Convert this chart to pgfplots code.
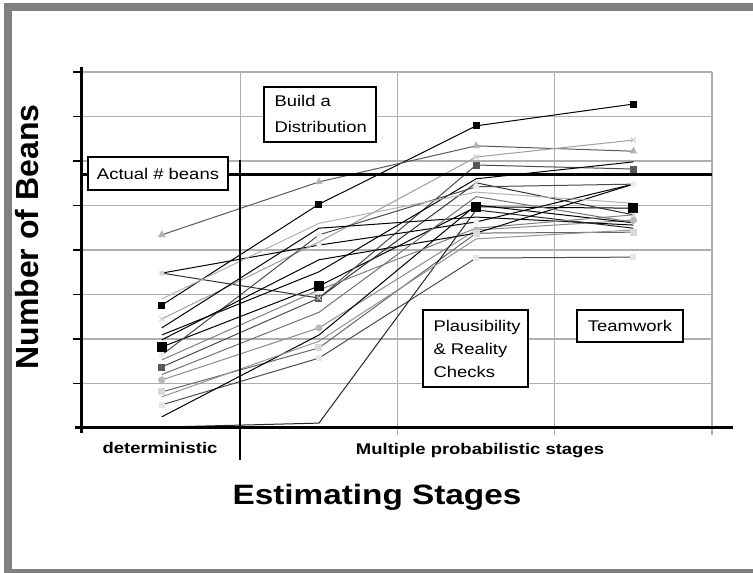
\documentclass[border=0pt]{standalone}
\usepackage{pgfplots}
\pgfplotsset{compat=1.18}
\usepackage{fontspec}
\setmainfont{Liberation Sans}
\usepackage{graphicx}

\definecolor{framec}{RGB}{128,128,128}
\definecolor{gridc}{RGB}{175,175,175}

% source picture is stretched sideways a bit
\newcommand{\wide}[1]{\scalebox{1.19}[1]{#1}}

\begin{document}
\begin{tikzpicture}
\begin{scope}[x=1pt,y=1pt]
\path[use as bounding box] (0,0) rectangle (753,573);
\fill[framec] (4,0) rectangle (753,570);
\fill[white] (12,4) rectangle (753,562);
\end{scope}

\begin{axis}[
  at={(80pt,145pt)}, anchor=south west,
  scale only axis, width=632pt, height=356pt,
  xmin=0.48, xmax=4.5, ymin=0, ymax=8,
  xtick={1.5,2.5,3.5,4.5}, ytick={1,...,8},
  xticklabels={}, yticklabels={},
  grid=major, grid style={gridc, line width=1.2pt},
  tick pos=left, tick align=outside, major tick length=7pt,
  xtick style={gridc, line width=1.2pt},
  ytick style={black, line width=1.5pt},
  axis line style={draw=none},
  clip=false,
  every axis plot/.append style={line width=1pt},
]
% black squares
\addplot[black, mark=square*, mark size=3pt] coordinates {(1,2.76) (2,5.03) (3,6.79) (4,7.28)};
% grey triangles
\addplot[black!65, mark=triangle*, mark size=3.5pt, mark options={gray!60, draw=gray!60}] coordinates {(1,4.34) (2,5.53) (3,6.34) (4,6.22)};
% big black squares
\addplot[black, mark=square*, mark size=4.5pt] coordinates {(1,1.82) (2,3.19) (3,4.97) (4,4.94)};
% dark grey squares
\addplot[black!70, mark=square*, mark size=3pt, mark options={black!65}] coordinates {(1,1.37) (2,2.92) (3,5.91) (4,5.82)};
% grey circles
\addplot[gray!90, mark=*, mark size=3pt, mark options={gray!55, draw=gray!55}] coordinates {(1,1.08) (2,2.25) (3,4.45) (4,4.67)};
% light grey squares
\addplot[black!60, mark=square*, mark size=3pt, mark options={gray!30, draw=gray!30}] coordinates {(1,0.81) (2,1.80) (3,4.38) (4,4.40)};
% the rest
\addplot[black, mark=diamond*, mark size=3pt, mark options={white, draw=gray!15}] coordinates {(1,3.48) (2,4.11) (3,4.63) (4,5.48)};
\addplot[black!80, mark=x, mark size=3pt, mark options={gray!40}] coordinates {(1,3.48) (2,2.92) (3,5.51) (4,4.79)};
\addplot[gray!75, mark=x, mark size=3.5pt, mark options={gray!40}] coordinates {(1,2.45) (2,4.18) (3,6.09) (4,6.47)};
\addplot[black] coordinates {(1,2.09) (2,3.51) (3,5.60) (4,5.98)};
\addplot[black!70, mark=*, mark size=2.5pt, mark options={gray!15, draw=gray!15}] coordinates {(1,1.64) (2,4.34) (3,5.42) (4,5.48)};
\addplot[black] coordinates {(1,2.25) (2,4.49) (3,4.74) (4,4.56)};
\addplot[black!70, mark=square*, mark size=2.5pt, mark options={gray!20, draw=gray!20}] coordinates {(1,0.52) (2,1.57) (3,3.82) (4,3.84)};
\addplot[black] coordinates {(1,0.25) (2,2.09) (3,5.01) (4,4.61)};
\addplot[black!85] coordinates {(1,0.02) (2,0.11) (3,4.90) (4,4.49)};
\addplot[gray] coordinates {(1,1.53) (2,3.10) (3,4.49) (4,4.79)};
\addplot[black] coordinates {(1,1.98) (2,3.78) (3,4.38) (4,5.48)};
\addplot[gray!60] coordinates {(1,2.90) (2,4.60) (3,5.30) (4,5.05)};
\addplot[black!55] coordinates {(1,1.20) (2,2.60) (3,5.20) (4,4.62)};
\addplot[gray!85] coordinates {(1,0.70) (2,1.95) (3,4.25) (4,4.45)};
% actual number of beans
\draw[line width=3pt] (axis cs:0.48,5.69) -- (axis cs:4.5,5.69);
\end{axis}

\begin{scope}[x=1pt,y=1pt]
% axes and stage divider
\draw[line width=3pt] (81,140) -- (81,506);
\draw[line width=3pt] (75,145) -- (733,145);
\draw[line width=2.5pt] (240,113) -- (240,413);

% boxes
\draw[line width=1.8pt, fill=white] (264,431) rectangle (376,486);
\draw[line width=1.8pt, fill=white] (88,383) rectangle (228,416);
\draw[line width=1.8pt, fill=white] (423,186) rectangle (528,263);
\draw[line width=1.8pt, fill=white] (577,231) rectangle (683,263);

\begin{scope}[font=\fontsize{15.5}{18}\selectfont]
\node[anchor=west] at (271,472) {\wide{Build a}};
\node[anchor=west] at (271,446) {\wide{Distribution}};
\node at (158,399) {\wide{Actual \# beans}};
\node[anchor=west] at (430,246) {\wide{Plausibility}};
\node[anchor=west] at (430,223) {\wide{\& Reality}};
\node[anchor=west] at (430,201) {\wide{Checks}};
\node at (630,247) {\wide{Teamwork}};
\node[font=\fontsize{15.5}{18}\selectfont\bfseries] at (160,125) {\wide{deterministic}};
\node[font=\fontsize{15.5}{18}\selectfont\bfseries] at (480,122) {\wide{Multiple probabilistic stages}};
\end{scope}

\node[font=\fontsize{28}{32}\selectfont\bfseries] at (377,76) {\wide{Estimating Stages}};
\node[font=\fontsize{32}{36}\selectfont\bfseries, rotate=90] at (27,336) {Number of Beans};
\end{scope}
\end{tikzpicture}
\end{document}
